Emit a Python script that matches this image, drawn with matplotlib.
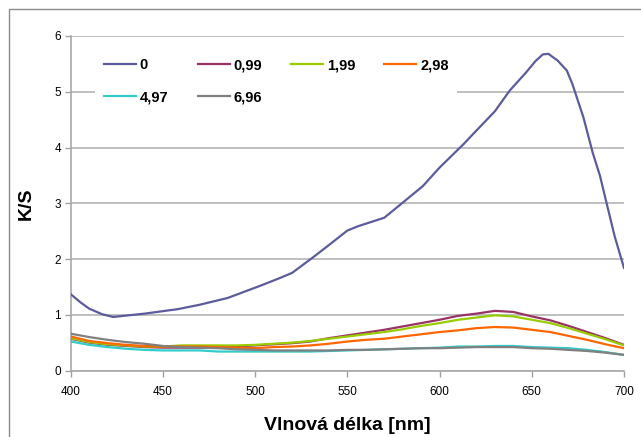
import matplotlib
matplotlib.use("Agg")
import matplotlib.pyplot as plt
from matplotlib.patches import Rectangle

plt.rcParams['font.family'] = ['Liberation Sans', 'DejaVu Sans']

# Concentration series (legend labels)
labels = ["0", "0,99", "1,99", "2,98", "4,97", "6,96"]
colors = ["#5c5c9c", "#993366", "#99cc00", "#ff6600", "#33cccc", "#808080"]

# Pure sample (0) - measured wavelengths and K/S
wl_0 = [400, 405, 410, 417, 423, 440, 458, 470, 485, 502, 512, 520, 531, 540,
        550, 556, 570, 580, 591, 600, 613, 619, 630, 638, 647, 652, 656, 659,
        664, 669, 672, 678, 683, 687, 690.5, 695, 700]
ks_0 = [1.37, 1.23, 1.11, 1.01, 0.96, 1.02, 1.10, 1.18, 1.30, 1.51, 1.64, 1.75,
        2.02, 2.25, 2.51, 2.59, 2.74, 3.01, 3.31, 3.64, 4.06, 4.27, 4.65, 5.02,
        5.35, 5.55, 5.67, 5.68, 5.56, 5.38, 5.14, 4.54, 3.91, 3.49, 3.01, 2.40,
        1.84]

# Other samples, every 10 nm
wl = list(range(400, 701, 10))
ks_099 = [0.57, 0.50, 0.46, 0.44, 0.42, 0.41, 0.41, 0.41, 0.42, 0.43, 0.45,
          0.47, 0.49, 0.52, 0.58, 0.63, 0.68, 0.73, 0.79, 0.85, 0.91, 0.98,
          1.02, 1.07, 1.05, 0.97, 0.90, 0.80, 0.69, 0.58, 0.46]
ks_199 = [0.58, 0.51, 0.47, 0.45, 0.43, 0.43, 0.45, 0.45, 0.45, 0.45, 0.46,
          0.48, 0.50, 0.53, 0.57, 0.61, 0.65, 0.69, 0.74, 0.80, 0.85, 0.91,
          0.95, 0.99, 0.97, 0.91, 0.85, 0.76, 0.66, 0.56, 0.45]
ks_298 = [0.61, 0.53, 0.49, 0.46, 0.44, 0.43, 0.43, 0.43, 0.42, 0.41, 0.40,
          0.42, 0.43, 0.45, 0.48, 0.52, 0.55, 0.57, 0.61, 0.65, 0.69, 0.72,
          0.76, 0.78, 0.77, 0.73, 0.69, 0.62, 0.55, 0.47, 0.40]
ks_497 = [0.52, 0.46, 0.42, 0.39, 0.37, 0.36, 0.36, 0.36, 0.34, 0.34, 0.34,
          0.34, 0.34, 0.34, 0.35, 0.36, 0.37, 0.38, 0.39, 0.40, 0.41, 0.43,
          0.43, 0.44, 0.44, 0.42, 0.41, 0.40, 0.37, 0.33, 0.28]
ks_696 = [0.66, 0.60, 0.55, 0.51, 0.48, 0.44, 0.42, 0.41, 0.40, 0.38, 0.37,
          0.36, 0.36, 0.36, 0.36, 0.37, 0.37, 0.38, 0.39, 0.40, 0.40, 0.41,
          0.42, 0.42, 0.42, 0.40, 0.39, 0.37, 0.35, 0.32, 0.28]

x_ticks = [400, 450, 500, 550, 600, 650, 700]
y_ticks = [0, 1, 2, 3, 4, 5, 6]

W, H = 641, 437
fig = plt.figure(figsize=(W / 100, H / 100), dpi=100)
fig.patch.set_facecolor("white")

# chart-area border
fig.add_artist(Rectangle((9 / W, -0.1), 1.2, (H - 9) / H + 0.1,
                         transform=fig.transFigure, fill=False,
                         edgecolor="#8c8c8c", linewidth=1.0))

ax = fig.add_axes([70.7 / W, 1 - 370.5 / H, (624 - 70.7) / W, (370.5 - 36) / H])

series = [(wl_0, ks_0), (wl, ks_099), (wl, ks_199), (wl, ks_298),
          (wl, ks_497), (wl, ks_696)]
handles = []
for (xs, ys), lab, col in zip(series, labels, colors):
    h, = ax.plot(xs, ys, color=col, linewidth=1.6, label=lab,
                 solid_joinstyle="round", zorder=3)
    handles.append(h)

ax.set_xlim(400, 700)
ax.set_ylim(0, 6)
ax.set_xticks(x_ticks)
ax.set_yticks(y_ticks)
ax.tick_params(axis="both", labelsize=8.5, colors="#a0a0a0",
               labelcolor="black", length=4, width=1.0, direction="out")
ax.tick_params(axis="x", pad=7)
ax.tick_params(axis="y", pad=3)
ax.yaxis.grid(True, color="#b4b4b4", linewidth=1.2)
ax.set_axisbelow(True)
for s in ["top", "right"]:
    ax.spines[s].set_visible(False)
for s in ["left", "bottom"]:
    ax.spines[s].set_color("#a8a8a8")
    ax.spines[s].set_linewidth(1.2)

ax.set_xlabel("Vlnová délka [nm]", fontsize=14, fontweight="bold", labelpad=14)
ax.set_ylabel("K/S", fontsize=14, fontweight="bold", labelpad=14)

# legend in row order: first row 0, 0,99, 1,99, 2,98; second row 4,97, 6,96
order = [0, 4, 1, 5, 2, 3]
leg = ax.legend([handles[i] for i in order], [labels[i] for i in order],
                ncol=4, loc="upper left", bbox_to_anchor=(88 / W, 1 - 42 / H),
                bbox_transform=fig.transFigure, frameon=True,
                facecolor="white", edgecolor="none", framealpha=1.0,
                fancybox=False, prop={"weight": "bold", "size": 10.5},
                handlelength=2.2, handletextpad=0.25, columnspacing=2.0,
                labelspacing=1.25, borderpad=0.6)
leg.set_zorder(5)

fig.savefig("out.png", dpi=100)
